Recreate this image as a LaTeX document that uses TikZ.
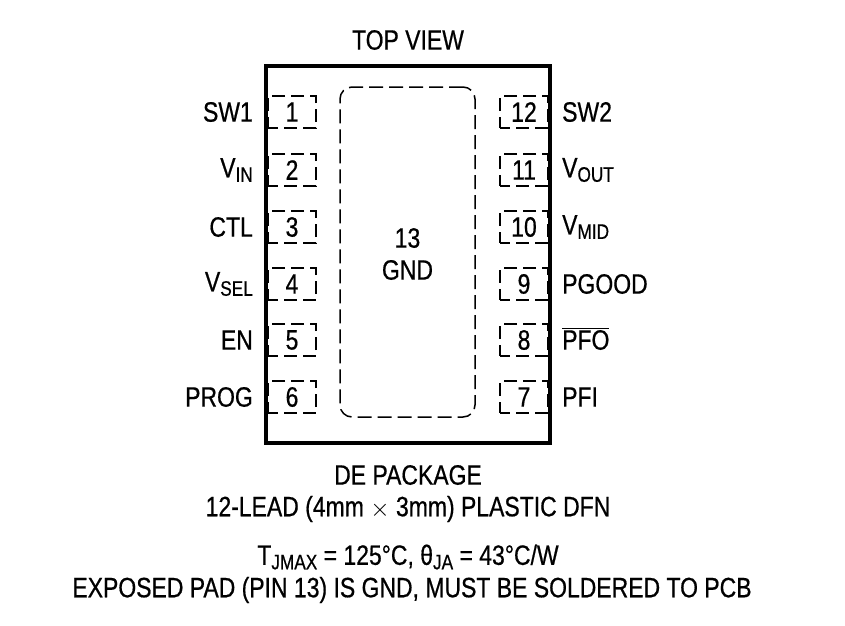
\documentclass[tikz,border=0pt]{standalone}
\usepackage{fontspec}
\setmainfont{Liberation Sans}[FakeStretch=0.82,FakeBold=0.6]
\newcommand{\sbs}[1]{\raisebox{-0.3ex}{\fontsize{21}{24}\selectfont #1}}
\begin{document}
\begin{tikzpicture}[x=1pt,y=-1pt,
  lbl/.style={font=\fontsize{28}{32}\selectfont,inner sep=0pt},
  pinbox/.style={draw,dashed,dash pattern=on 13pt off 6pt,dash phase=3pt,line width=1.5pt,minimum width=48pt,minimum height=32pt,inner sep=0pt}]
\useasboundingbox (0,0) rectangle (845,625);
\node[lbl] (top) at (408,40) {TOP VIEW};
\node[draw,line width=4pt,minimum width=284pt,minimum height=377pt,inner sep=0pt] (pkg) at (408,254.5) {};
\node[draw,dashed,dash pattern=on 14pt off 6pt,line width=1.5pt,rounded corners=12pt,minimum width=135pt,minimum height=330pt] (pad) at (407.5,252) {};
\node[lbl,align=center] (gnd) at (407.5,254) {13\\GND};
\foreach \n/\y/\t in {1/112/SW1,2/170/V\sbs{IN},3/227/CTL,4/284/V\sbs{SEL},5/340/EN,6/397/PROG}{
  \node[pinbox] (L\n) at (292,\y) {};
  \node[lbl] (Ln\n) at (292,\y) {\n};
  \node[lbl,anchor=east] (Lt\n) at (253,\y) {\t};
}
\foreach \n/\y/\t in {12/112/SW2,11/170/V\sbs{OUT},10/227/V\sbs{MID},9/284/PGOOD,8/340/\vphantom{P}\smash{$\overline{\mbox{PFO}}$},7/397/PFI}{
  \node[pinbox] (R\n) at (524,\y) {};
  \node[lbl] (Rn\n) at (524,\y) {\n};
  \node[lbl,anchor=west] (Rt\n) at (562,\y) {\t};
}
\node[lbl] (dp) at (408,475) {DE PACKAGE};
\node[lbl] (lead) at (408,509) {12-LEAD (4mm $\times$ 3mm) PLASTIC DFN};
\node[lbl] (tj) at (408,557) {T\sbs{JMAX} = 125°C, θ\sbs{JA} = 43°C/W};
\node[lbl] (ep) at (412,590) {EXPOSED PAD (PIN 13) IS GND, MUST BE SOLDERED TO PCB};
\end{tikzpicture}
\end{document}
